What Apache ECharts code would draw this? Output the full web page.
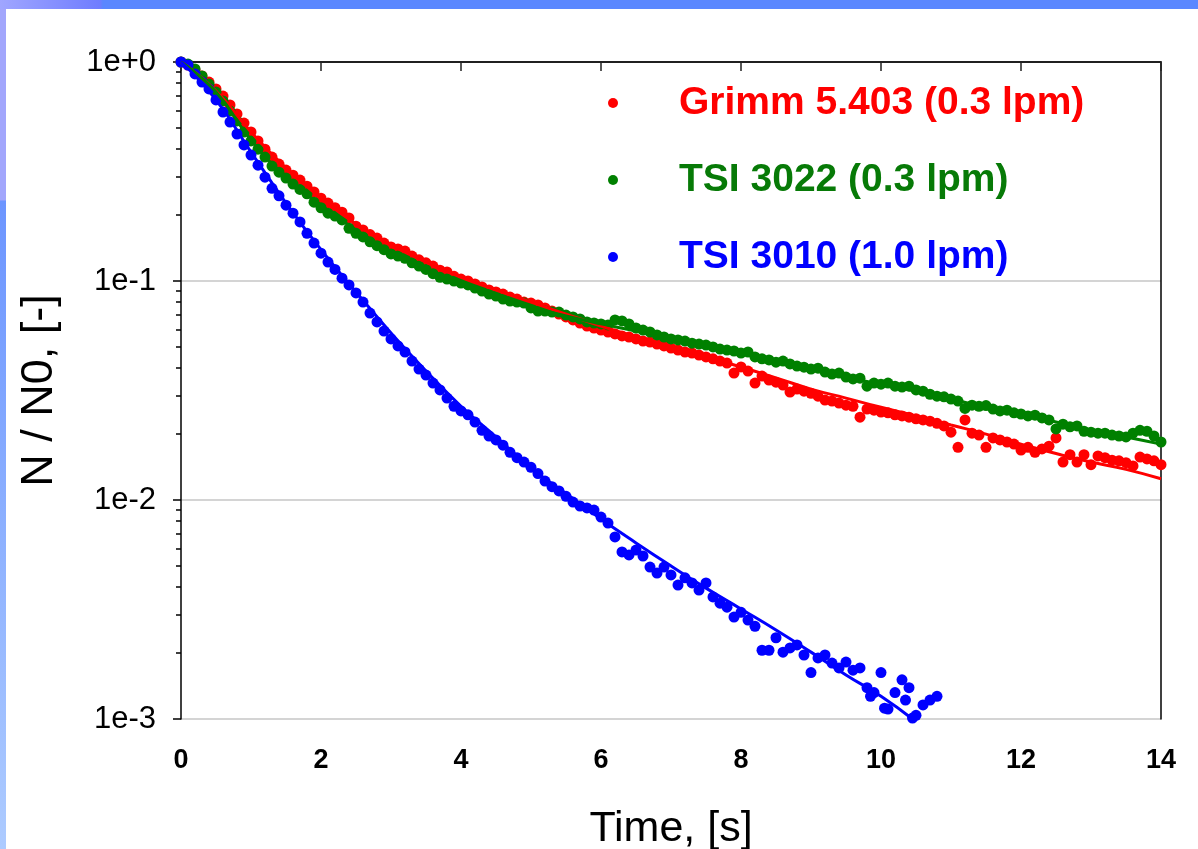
<!DOCTYPE html>
<html><head><meta charset="utf-8">
<script src="https://cdn.jsdelivr.net/npm/echarts@6/dist/echarts.min.js"></script>
<style>
html,body{margin:0;padding:0;}
body{width:1198px;height:849px;position:relative;overflow:hidden;
 background:linear-gradient(to bottom,#a2a6fc 0px,#a2a6fc 200px,#6c95ff 201px,#adcbff 849px);}
#top{position:absolute;left:0;top:0;width:1198px;height:9px;background:linear-gradient(to right,#a0a6ff 0px,#6f7dff 100px,#5a87ff 103px,#5a87ff 1198px);}
#sheet{position:absolute;left:6px;top:9px;width:1192px;height:840px;background:#fff;}
#chart{position:absolute;left:0;top:0;width:1198px;height:849px;}
</style></head>
<body><div id="top"></div><div id="sheet"></div><div id="chart"></div>
<script>
// ---------- data ----------
const seriesNames = ['Grimm 5.403 (0.3 lpm)', 'TSI 3022 (0.3 lpm)', 'TSI 3010 (1.0 lpm)'];
const xTickLabels = ['0','2','4','6','8','10','12','14'];
const yTickLabels = ['1e-3','1e-2','1e-1','1e+0'];
const minorTickValues = [0.002,0.003,0.004,0.005,0.006,0.007,0.008,0.009,
  0.02,0.03,0.04,0.05,0.06,0.07,0.08,0.09,
  0.2,0.3,0.4,0.5,0.6,0.7,0.8,0.9];

const timeRG = [0,0.1,0.2,0.3,0.4,0.5,0.6,0.7,0.8,0.9,
 1,1.1,1.2,1.3,1.4,1.5,1.6,1.7,1.8,1.9,
 2,2.1,2.2,2.3,2.4,2.5,2.6,2.7,2.8,2.9,
 3,3.1,3.2,3.3,3.4,3.5,3.6,3.7,3.8,3.9,
 4,4.1,4.2,4.3,4.4,4.5,4.6,4.7,4.8,4.9,
 5,5.1,5.2,5.3,5.4,5.5,5.6,5.7,5.8,5.9,
 6,6.1,6.2,6.3,6.4,6.5,6.6,6.7,6.8,6.9,
 7,7.1,7.2,7.3,7.4,7.5,7.6,7.7,7.8,7.9,
 8,8.1,8.2,8.3,8.4,8.5,8.6,8.7,8.8,8.9,
 9,9.1,9.2,9.3,9.4,9.5,9.6,9.7,9.8,9.9,
 10,10.1,10.2,10.3,10.4,10.5,10.6,10.7,10.8,10.9,
 11,11.1,11.2,11.3,11.4,11.5,11.6,11.7,11.8,11.9,
 12,12.1,12.2,12.3,12.4,12.5,12.6,12.7,12.8,12.9,
 13,13.1,13.2,13.3,13.4,13.5,13.6,13.7,13.8,13.9,
 14];

const grimmVals = [1.000,0.969,0.920,0.863,0.810,0.753,0.699,0.637,0.579,0.526,
 0.479,0.436,0.400,0.368,0.342,0.321,0.304,0.289,0.271,0.255,
 0.239,0.227,0.216,0.206,0.194,0.178,0.171,0.163,0.157,0.149,
 0.143,0.140,0.137,0.130,0.125,0.121,0.117,0.112,0.110,0.105,
 0.102,0.100,0.0969,0.0939,0.0910,0.0891,0.0872,0.0845,0.0827,0.0801,
 0.0793,0.0777,0.0753,0.0729,0.0706,0.0685,0.0664,0.0643,0.0623,0.0610,
 0.0597,0.0585,0.0573,0.0561,0.0555,0.0544,0.0532,0.0526,0.0515,0.0505,
 0.0494,0.0484,0.0474,0.0469,0.0459,0.0450,0.0441,0.0431,0.0422,0.0380,
 0.0405,0.0388,0.0342,0.0368,0.0353,0.0345,0.0335,0.0311,0.0321,0.0314,
 0.0307,0.0298,0.0286,0.0283,0.0277,0.0271,0.0268,0.0239,0.0260,0.0257,
 0.0252,0.0250,0.0245,0.0242,0.0239,0.0235,0.0232,0.0229,0.0224,0.0218,
 0.0204,0.0174,0.0232,0.0202,0.0198,0.0174,0.0192,0.0188,0.0184,0.0180,
 0.0169,0.0174,0.0165,0.0171,0.0176,0.0192,0.0149,0.0161,0.0149,0.0161,
 0.0145,0.0159,0.0156,0.0152,0.0151,0.0148,0.0143,0.0157,0.0154,0.0151,
 0.0145];

const tsi3022Vals = [1.000,0.979,0.929,0.863,0.793,0.729,0.664,0.597,0.538,0.479,
 0.436,0.400,0.368,0.335,0.314,0.295,0.277,0.262,0.250,0.229,
 0.216,0.204,0.198,0.190,0.174,0.165,0.159,0.151,0.145,0.139,
 0.133,0.130,0.127,0.121,0.117,0.113,0.108,0.104,0.102,0.100,
 0.0979,0.0959,0.0929,0.0900,0.0872,0.0854,0.0827,0.0810,0.0801,0.0793,
 0.0753,0.0729,0.0729,0.0721,0.0721,0.0699,0.0685,0.0671,0.0650,0.0643,
 0.0637,0.0630,0.0664,0.0657,0.0637,0.0610,0.0597,0.0585,0.0567,0.0555,
 0.0544,0.0538,0.0532,0.0520,0.0515,0.0510,0.0500,0.0489,0.0484,0.0479,
 0.0469,0.0474,0.0450,0.0441,0.0436,0.0426,0.0431,0.0418,0.0409,0.0404,
 0.0396,0.0400,0.0384,0.0376,0.0380,0.0364,0.0357,0.0360,0.0331,0.0342,
 0.0338,0.0342,0.0331,0.0328,0.0331,0.0318,0.0314,0.0304,0.0298,0.0296,
 0.0289,0.0283,0.0262,0.0271,0.0268,0.0270,0.0260,0.0255,0.0257,0.0250,
 0.0247,0.0242,0.0244,0.0237,0.0232,0.0211,0.0222,0.0216,0.0218,0.0206,
 0.0204,0.0202,0.0202,0.0198,0.0196,0.0194,0.0202,0.0208,0.0206,0.0196,
 0.0184];

const timeB = [0,0.1,0.2,0.3,0.4,0.5,0.6,0.7,0.8,0.9,
 1,1.1,1.2,1.3,1.4,1.5,1.6,1.7,1.8,1.9,
 2,2.1,2.2,2.3,2.4,2.5,2.6,2.7,2.8,2.9,
 3,3.1,3.2,3.3,3.4,3.5,3.6,3.7,3.8,3.9,
 4,4.1,4.2,4.3,4.4,4.5,4.6,4.7,4.8,4.9,
 5,5.1,5.2,5.3,5.4,5.5,5.6,5.7,5.8,5.9,
 6,6.1,6.2,6.3,6.4,6.5,6.6,6.7,6.8,6.9,
 7,7.1,7.2,7.3,7.4,7.5,7.6,7.7,7.8,7.9,
 8,8.1,8.2,8.3,8.4,8.5,8.6,8.7,8.8,8.9,
 9,9.1,9.2,9.3,9.4,9.5,9.6,9.7,9.8,9.85,
 9.9,10,10.05,10.1,10.2,10.3,10.35,10.4,10.45,10.5,
 10.6,10.7,10.8];

const tsi3010Vals = [1.000,0.969,0.882,0.810,0.753,0.671,0.591,0.532,0.469,0.418,
 0.376,0.338,0.298,0.265,0.245,0.222,0.204,0.186,0.165,0.149,
 0.134,0.122,0.113,0.103,0.0959,0.0882,0.0801,0.0714,0.0650,0.0591,
 0.0544,0.0505,0.0474,0.0431,0.0396,0.0372,0.0342,0.0318,0.0292,0.0268,
 0.0255,0.0245,0.0227,0.0208,0.0196,0.0188,0.0178,0.0165,0.0156,0.0149,
 0.0141,0.0132,0.0122,0.0115,0.0110,0.0104,0.00979,0.00939,0.00920,0.00900,
 0.00836,0.00785,0.00678,0.00579,0.00561,0.00591,0.00555,0.00494,0.00464,0.00494,
 0.00455,0.00409,0.00441,0.00418,0.00388,0.00418,0.00361,0.00338,0.00324,0.00292,
 0.00307,0.00283,0.00265,0.00206,0.00206,0.00235,0.00202,0.00211,0.00218,0.00196,
 0.00163,0.00190,0.00196,0.00180,0.00171,0.00182,0.00167,0.00171,0.00139,0.00127,
 0.00132,0.00163,0.00112,0.00111,0.00132,0.00151,0.00122,0.00139,0.00101,0.00104,
 0.00116,0.00122,0.00127];

const fitTime = [0,0.5,1,1.5,2,2.5,3,3.5,4,4.5,5,5.5,6,6.5,7,7.5,8,8.5,9,9.5,10,10.5,11,11.5,12,12.5,13,13.5,14];
const grimmFit = [1.0,0.737,0.479,0.328,0.239,0.182,0.146,0.122,0.104,0.0910,0.0801,0.0706,0.0623,0.0555,0.0500,0.0450,0.0405,0.0361,0.0321,0.0292,0.0265,0.0242,0.0220,0.0200,0.0180,0.0163,0.0149,0.0138,0.0125];
const tsi3022Fit = [1.0,0.729,0.441,0.298,0.222,0.171,0.136,0.112,0.0979,0.0854,0.0761,0.0692,0.0637,0.0591,0.0544,0.0505,0.0469,0.0431,0.0396,0.0364,0.0338,0.0314,0.0289,0.0265,0.0247,0.0227,0.0208,0.0194,0.0180];
const fitTimeB = [0,0.5,1,1.5,2,2.5,3,3.5,4,4.5,5,5.5,6,6.5,7,7.5,8,8.5,9,9.5,10,10.45];
const tsi3010Fit = [1.0,0.671,0.388,0.227,0.139,0.0891,0.0579,0.0388,0.0268,0.0194,0.0140,0.0107,0.00819,0.00637,0.00500,0.00396,0.00318,0.00255,0.00202,0.00159,0.00127,0.00100];

const colors = ['#ff0000', '#008000', '#0000ff'];
const legendTextColors = ['#ff0000', '#077a07', '#0000ff'];

// ---------- chart ----------
const zip = (xs, ys) => xs.map((x, i) => [x, ys[i]]);
const FONT = '"Liberation Sans", Arial, sans-serif';
const chart = echarts.init(document.getElementById('chart'), null, {renderer: 'canvas'});

const scatter = (name, xs, ys, c) => ({
  type: 'scatter', name: name, data: zip(xs, ys), symbol: 'circle', symbolSize: 11,
  itemStyle: {color: c, opacity: 1}, xAxisIndex: 0, yAxisIndex: 0, z: 2
});
const fitLine = (name, xs, ys, c) => ({
  type: 'line', name: name, data: zip(xs, ys), showSymbol: false, smooth: true,
  lineStyle: {color: c, width: 3}, itemStyle: {color: c}, xAxisIndex: 0, yAxisIndex: 0, z: 3
});

const option = {
  animation: false,
  textStyle: {fontFamily: FONT},
  grid: {left: 181, top: 62, right: 37, bottom: 130, containLabel: false, outerBoundsMode: 'none'},
  legend: {
    orient: 'vertical', left: 608, top: 81, padding: 0, itemGap: 33,
    itemWidth: 10, itemHeight: 10, icon: 'circle', selectedMode: false,
    textStyle: {fontFamily: FONT, fontSize: 39, fontWeight: 'bold', lineHeight: 44, padding: [0, 0, 0, 56]},
    data: seriesNames.map((n, i) => ({name: n, textStyle: {color: legendTextColors[i]}}))
  },
  xAxis: [{
    type: 'value', min: 0, max: 14, interval: 2,
    name: 'Time, [s]', nameLocation: 'middle', nameGap: 89,
    nameTextStyle: {fontSize: 43, color: '#000', fontFamily: FONT},
    axisLine: {show: true, lineStyle: {color: '#808080', width: 2}},
    axisTick: {show: true, length: 9, lineStyle: {color: '#222', width: 1.5}},
    axisLabel: {fontSize: 27, fontWeight: 'bold', color: '#000', margin: 28,
      formatter: v => xTickLabels[Math.round(v / 2)]},
    splitLine: {show: false}
  }, {
    type: 'value', min: 0, max: 14, position: 'top',
    axisLine: {show: true, onZero: false, lineStyle: {color: '#000', width: 1.5}},
    axisTick: {show: false}, axisLabel: {show: false}, splitLine: {show: false}
  }],
  yAxis: [{
    type: 'log', logBase: 10, min: 0.001, max: 1,
    name: 'N / N0, [-]', nameLocation: 'middle', nameGap: 119,
    nameTextStyle: {fontSize: 45, color: '#000', fontFamily: FONT},
    axisLine: {show: true, lineStyle: {color: '#000', width: 1.5}},
    axisTick: {show: true, length: 8, lineStyle: {color: '#000', width: 1.5}},
    axisLabel: {fontSize: 31, color: '#000', margin: 25,
      formatter: v => yTickLabels[Math.round(Math.log10(v)) + 3]},
    splitLine: {show: true, lineStyle: {color: '#d4d4d4', width: 2}}
  }, {
    type: 'value', min: -3, max: 0, position: 'left',
    axisLine: {show: false}, axisLabel: {show: false}, splitLine: {show: false},
    axisTick: {show: true, length: 5, customValues: minorTickValues.map(Math.log10),
      lineStyle: {color: '#000', width: 1.5}}
  }, {
    type: 'value', min: 0, max: 1, position: 'right',
    axisLine: {show: true, onZero: false, lineStyle: {color: '#000', width: 1.5}},
    axisTick: {show: false}, axisLabel: {show: false}, splitLine: {show: false}
  }],
  series: [
    scatter(seriesNames[0], timeRG, grimmVals, colors[0]),
    scatter(seriesNames[1], timeRG, tsi3022Vals, colors[1]),
    scatter(seriesNames[2], timeB, tsi3010Vals, colors[2]),
    fitLine('Grimm fit', fitTime, grimmFit, colors[0]),
    fitLine('TSI 3022 fit', fitTime, tsi3022Fit, colors[1]),
    fitLine('TSI 3010 fit', fitTimeB, tsi3010Fit, colors[2])
  ]
};
chart.setOption(option);
</script></body></html>
